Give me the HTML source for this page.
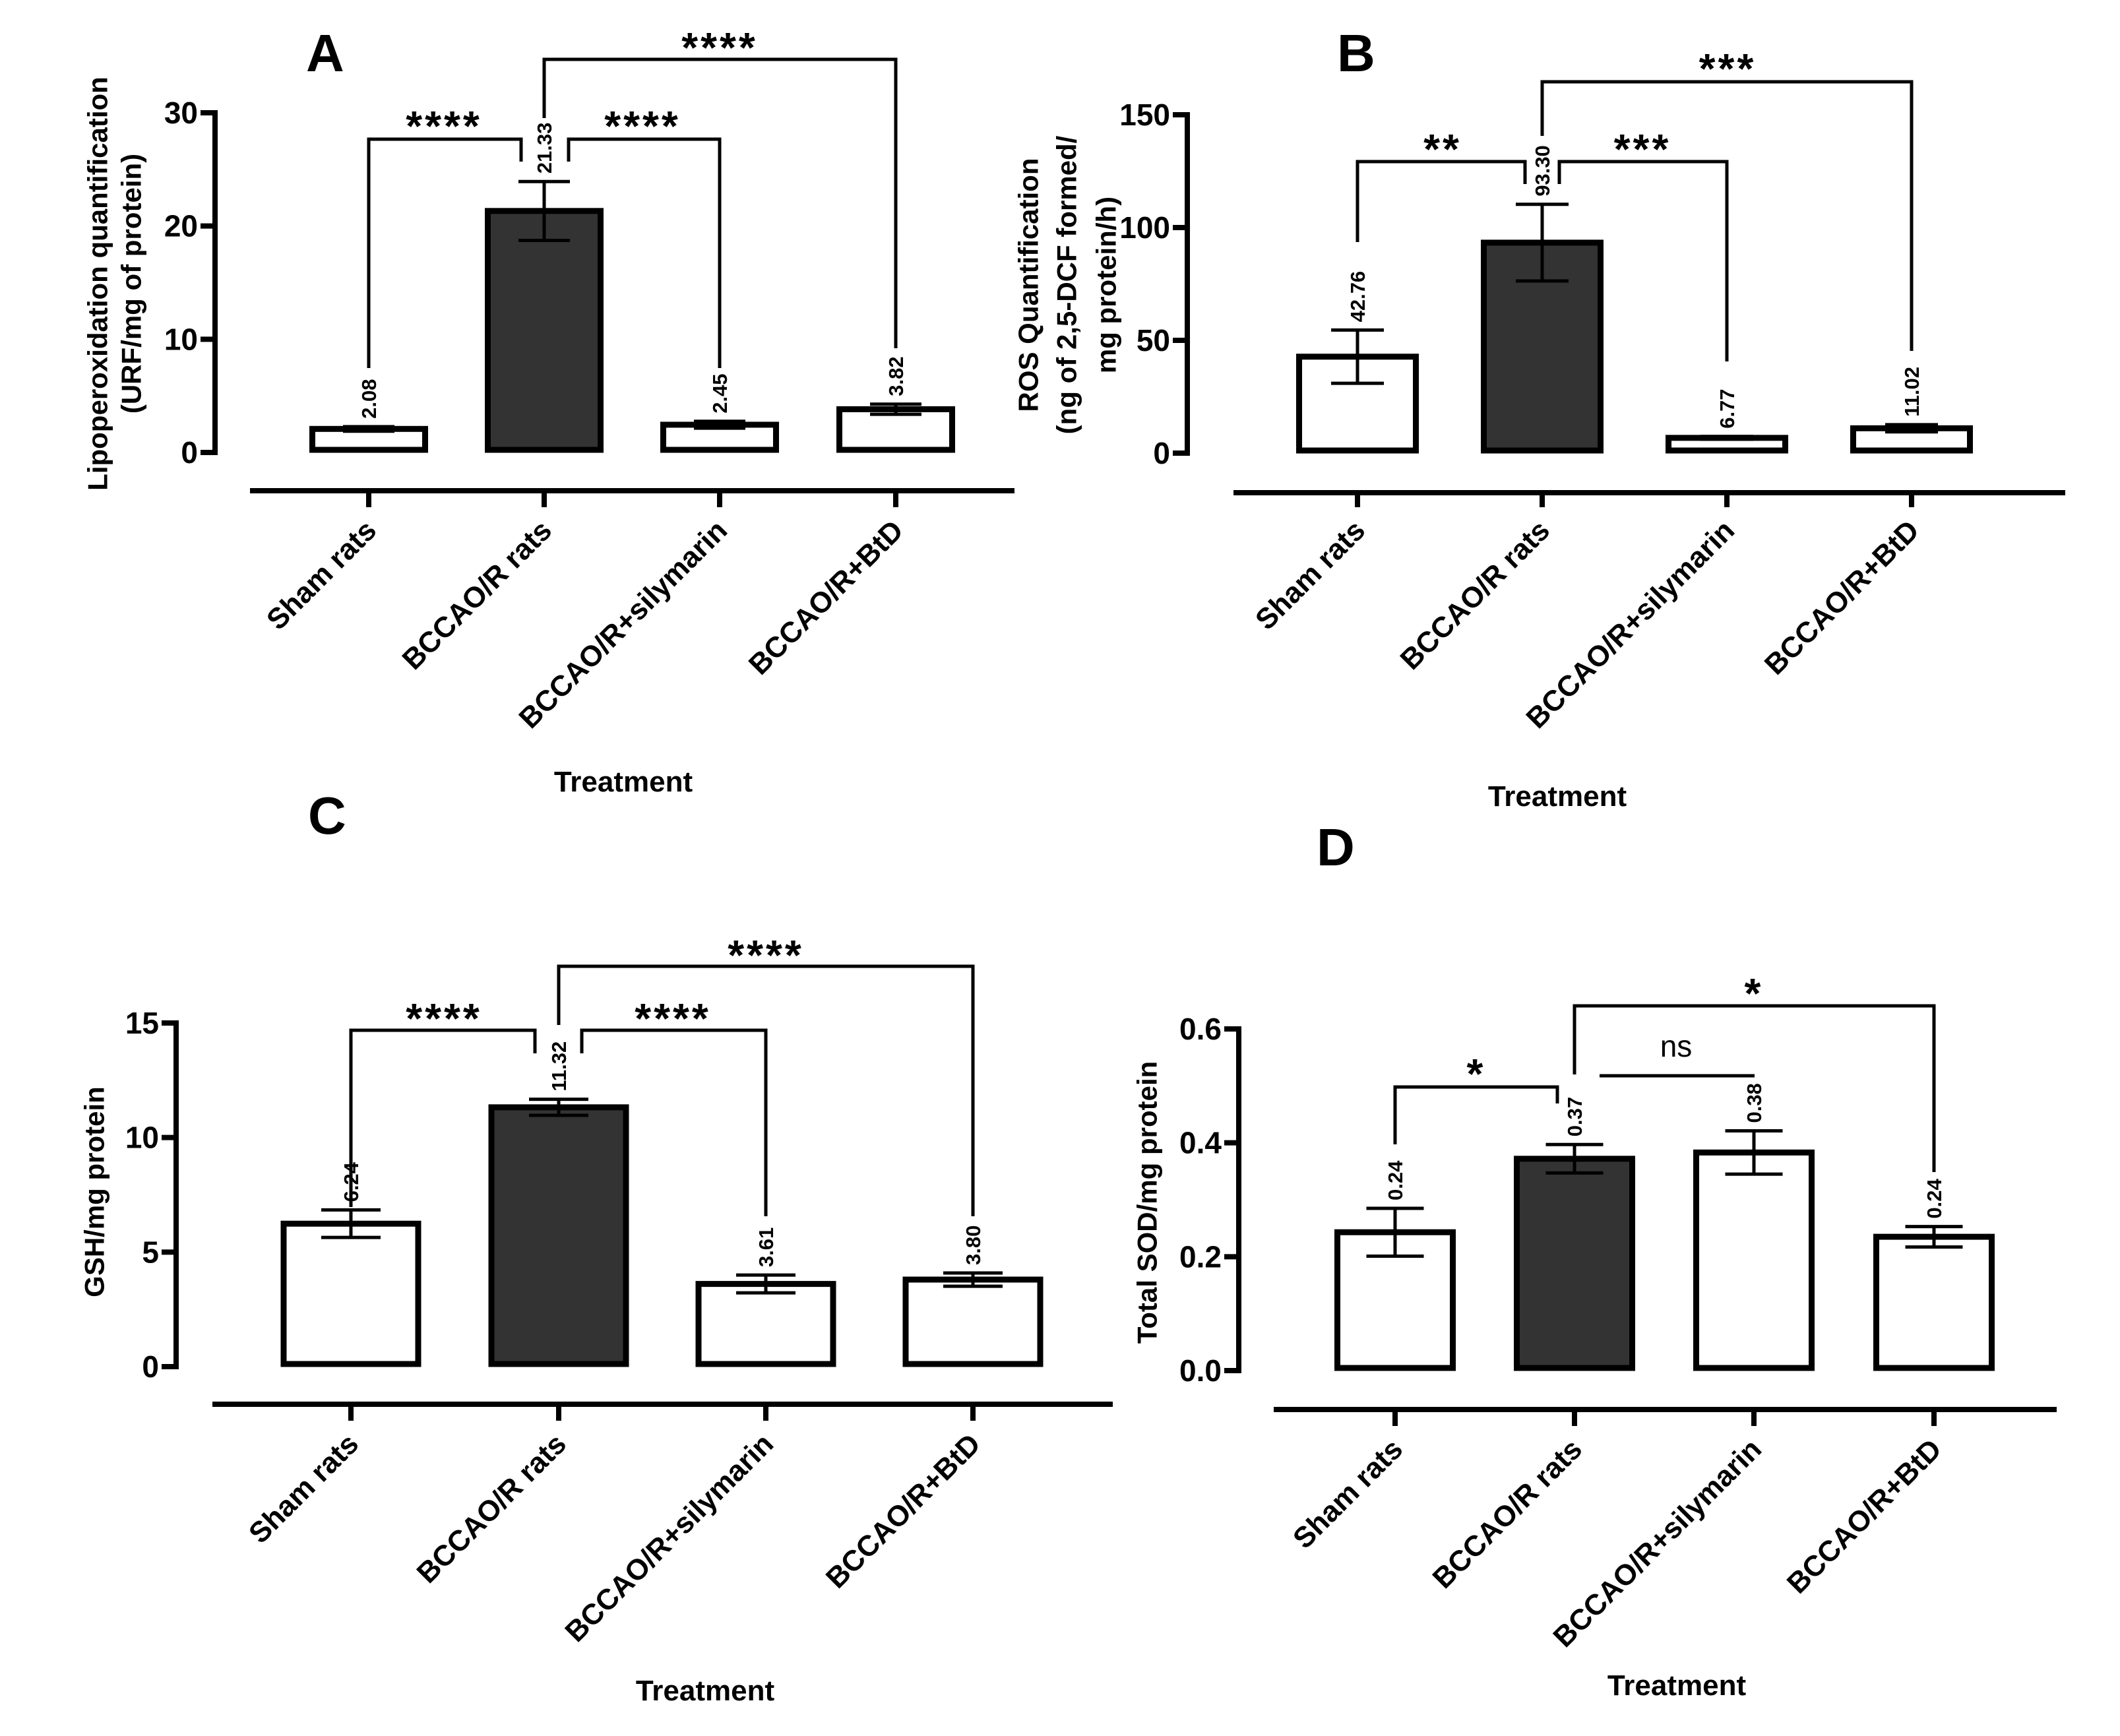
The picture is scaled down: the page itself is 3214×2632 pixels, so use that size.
<!DOCTYPE html>
<html><head><meta charset="utf-8"><style>
html,body{margin:0;padding:0;background:#fff;}
svg{display:block;font-family:"Liberation Sans",sans-serif;}
</style></head><body>
<svg id="fig" width="3214" height="2632" viewBox="0 0 3214 2632" xmlns="http://www.w3.org/2000/svg">
<rect x="0" y="0" width="3214" height="2632" fill="#fff"/>
</svg>
<script>
const categories = ["Sham rats","BCCAO/R rats","BCCAO/R+silymarin","BCCAO/R+BtD"];
const valuesA = [2.08, 21.33, 2.45, 3.82];
const semA = [0.2, 2.6, 0.3, 0.45];
const labelsA = ["2.08","21.33","2.45","3.82"];
const ticksA = [0, 10, 20, 30];
const tickLabelsA = ["0","10","20","30"];
const valuesB = [42.76, 93.30, 6.77, 11.02];
const semB = [11.8, 17.0, 0.6, 1.6];
const labelsB = ["42.76","93.30","6.77","11.02"];
const ticksB = [0, 50, 100, 150];
const tickLabelsB = ["0","50","100","150"];
const valuesC = [6.24, 11.32, 3.61, 3.80];
const semC = [0.6, 0.35, 0.39, 0.29];
const labelsC = ["6.24","11.32","3.61","3.80"];
const ticksC = [0, 5, 10, 15];
const tickLabelsC = ["0","5","10","15"];
const valuesD = [0.243, 0.372, 0.383, 0.235];
const semD = [0.042, 0.025, 0.038, 0.018];
const labelsD = ["0.24","0.37","0.38","0.24"];
const ticksD = [0, 0.2, 0.4, 0.6];
const tickLabelsD = ["0.0","0.2","0.4","0.6"];

const NS = "http://www.w3.org/2000/svg";
const svg = document.getElementById("fig");
function mk(tag, attrs, parent, txt){
  const e = document.createElementNS(NS, tag);
  for (const k in attrs) e.setAttribute(k, attrs[k]);
  if (txt !== undefined) e.textContent = txt;
  (parent || svg).appendChild(e);
  return e;
}

const panels = [
 {id:"a", letter:"A", lx:464, ly:108, values:valuesA, sem:semA, labels:labelsA, ticks:ticksA, tickLabels:tickLabelsA, max:30,
  axisX:326, y0:686, yTop:171, centers:[559,825,1091,1358], barW:171, capW:78,
  xAxisY:744, xL:379, xR:1538, tickBot:769,
  ytitle:["Lipoperoxidation quantification","(URF/mg of protein)"], ytx:[148,199], yty:430,
  tx:945, ty:1200,
  brackets:[
   {x1:559,x2:790,y:211,b1:558,b2:245,t:"****",tx:673,ty:203},
   {x1:862,x2:1091,y:211,b1:245,b2:558,t:"****",tx:974,ty:203},
   {x1:825,x2:1358,y:90,b1:179,b2:528,t:"****",tx:1091,ty:84}]},
 {id:"b", letter:"B", lx:2027, ly:108, values:valuesB, sem:semB, labels:labelsB, ticks:ticksB, tickLabels:tickLabelsB, max:150,
  axisX:1800, y0:687, yTop:174, centers:[2058,2338,2618,2898], barW:177, capW:80,
  xAxisY:747, xL:1870, xR:3131, tickBot:769,
  ytitle:["ROS Quantification","(ng of 2,5-DCF formed/","mg protein/h)"], ytx:[1559,1617,1677], yty:432,
  tx:2361, ty:1222,
  brackets:[
   {x1:2058,x2:2312,y:245,b1:367,b2:279,t:"**",tx:2187,ty:238},
   {x1:2364,x2:2618,y:245,b1:279,b2:548,t:"***",tx:2490,ty:238},
   {x1:2338,x2:2898,y:124,b1:206,b2:532,t:"***",tx:2619,ty:116}]},
 {id:"c", letter:"C", lx:467, ly:1264, values:valuesC, sem:semC, labels:labelsC, ticks:ticksC, tickLabels:tickLabelsC, max:15,
  axisX:267, y0:2072, yTop:1551, centers:[532,847,1161,1475], barW:204, capW:90,
  xAxisY:2129, xL:322, xR:1687, tickBot:2154,
  ytitle:["GSH/mg protein"], ytx:[143], yty:1807,
  tx:1069, ty:2578,
  brackets:[
   {x1:532,x2:811,y:1562,b1:1830,b2:1597,t:"****",tx:673,ty:1556},
   {x1:882,x2:1161,y:1562,b1:1597,b2:1844,t:"****",tx:1020,ty:1556},
   {x1:847,x2:1475,y:1465,b1:1554,b2:1844,t:"****",tx:1161,ty:1460}]},
 {id:"d", letter:"D", lx:1996, ly:1312, values:valuesD, sem:semD, labels:labelsD, ticks:ticksD, tickLabels:tickLabelsD, max:0.6,
  axisX:1878, y0:2078, yTop:1560, centers:[2115,2387,2659,2932], barW:175, capW:87,
  xAxisY:2137, xL:1931, xR:3118, tickBot:2162,
  ytitle:["Total SOD/mg protein"], ytx:[1739], yty:1823,
  tx:2542, ty:2570,
  brackets:[
   {x1:2115,x2:2361,y:1648,b1:1735,b2:1673,t:"*",tx:2238,ty:1640},
   {x1:2425,x2:2660,y:1631,b1:null,b2:null,t:"ns",tx:2541,ty:1602,ns:true},
   {x1:2387,x2:2932,y:1525,b1:1629,b2:1777,t:"*",tx:2659,ty:1518}]}
];

panels.forEach(p => {
  const g = mk("g", {});
  
  
  const yScale = v => p.y0 - (v / p.max) * (p.y0 - p.yTop);

  const L = mk("text", {x:p.lx, y:p.ly, "font-size":80, "font-weight":"bold"}, g, p.letter);
  
  

  const ya = mk("line", {x1:p.axisX, y1:p.y0+4, x2:p.axisX, y2:p.yTop-4, stroke:"#000", "stroke-width":8}, g);
  
  
  p.ticks.forEach((t, i) => {
    const y = yScale(t);
    const tk = mk("line", {x1:p.axisX-22, y1:y, x2:p.axisX, y2:y, stroke:"#000", "stroke-width":8}, g);
    
    
    const tl = mk("text", {x:p.axisX-26, y:y+16, "font-size":46, "font-weight":"bold", "text-anchor":"end"}, g, p.tickLabels[i]);
    
    
  });

  p.ytitle.forEach((line, i) => {
    const x = p.ytx[i];
    const yt = mk("text", {x:x, y:p.yty, "font-size":42, "font-weight":"bold", "text-anchor":"middle",
      "dominant-baseline":"central", transform:"rotate(-90 " + x + " " + p.yty + ")"}, g, line);
    
    
  });

  const xa = mk("line", {x1:p.xL, y1:p.xAxisY, x2:p.xR, y2:p.xAxisY, stroke:"#000", "stroke-width":8}, g);
  
  

  categories.forEach((c, i) => {
    const cx = p.centers[i];
    const v = p.values[i];
    const top = yScale(v);
    const bar = mk("rect", {x:cx - p.barW/2, y:top, width:p.barW, height:p.y0 - top - 4,
      fill: i === 1 ? "#333333" : "#ffffff", stroke:"#000", "stroke-width":9}, g);
    
    

    const hi = yScale(v + p.sem[i]), lo = yScale(v - p.sem[i]);
    const eg = mk("g", {stroke:"#000", "stroke-width":5}, g);
    
    
    mk("line", {x1:cx, y1:hi, x2:cx, y2:lo}, eg);
    mk("line", {x1:cx - p.capW/2, y1:hi, x2:cx + p.capW/2, y2:hi}, eg);
    mk("line", {x1:cx - p.capW/2, y1:lo, x2:cx + p.capW/2, y2:lo}, eg);

    const ly = hi - 12;
    const vl = mk("text", {x:cx + 11, y:ly, "font-size":31, "font-weight":"bold",
      transform:"rotate(-90 " + (cx + 11) + " " + ly + ")"}, g, p.labels[i]);
    
    

    const tk = mk("line", {x1:cx, y1:p.xAxisY, x2:cx, y2:p.tickBot, stroke:"#000", "stroke-width":8}, g);
    
    
    const ax = cx + 14, ay = p.tickBot + 38;
    const xl = mk("text", {x:ax, y:ay, "font-size":44, "font-weight":"bold", "text-anchor":"end",
      transform:"rotate(-45 " + ax + " " + ay + ")"}, g, c);
    
    
  });

  const tt = mk("text", {x:p.tx, y:p.ty, "font-size":44, "font-weight":"bold", "text-anchor":"middle"}, g, "Treatment");
  
  

  p.brackets.forEach(b => {
    let d;
    if (b.ns) d = "M" + b.x1 + " " + b.y + " H" + b.x2;
    else d = "M" + b.x1 + " " + b.b1 + " V" + b.y + " H" + b.x2 + " V" + b.b2;
    const br = mk("path", {d:d, fill:"none", stroke:"#000", "stroke-width":5}, g);
    
    
    const st = b.ns
      ? mk("text", {x:b.tx, y:b.ty, "font-size":46, "text-anchor":"middle"}, g, b.t)
      : mk("text", {x:b.tx, y:b.ty + 10, "font-size":64, "font-weight":"bold", "text-anchor":"middle", "letter-spacing":4}, g, b.t);
    
    
  });
});
</script>
</body></html>
